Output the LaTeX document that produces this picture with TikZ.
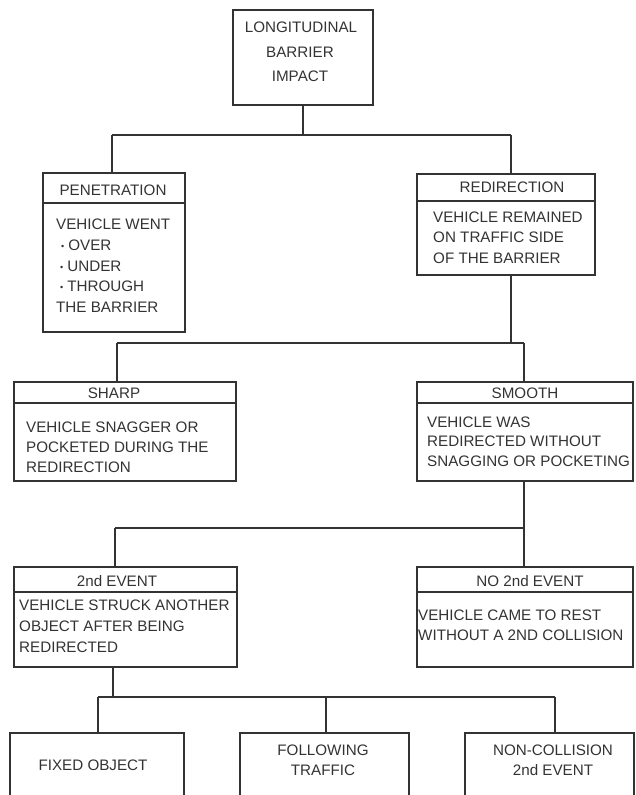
\documentclass[tikz,border=0pt]{standalone}
\usepackage{fontspec}
\setmainfont{Liberation Sans}
\definecolor{ink}{gray}{0.2}
\tikzset{
  box/.style={draw=ink, line width=1.1pt, anchor=north west, inner sep=0pt, outer sep=0pt},
  conn/.style={draw=ink, line width=1.1pt},
  txt/.style={anchor=base west, inner sep=0pt, text=ink, font=\fontsize{15.2}{18}\selectfont},
  ctxt/.style={anchor=base, inner sep=0pt, text=ink, font=\fontsize{15.2}{18}\selectfont}
}
\newcommand\mybul{{\fontsize{9}{9}\selectfont\raisebox{0.9pt}{\textbullet}}\hspace{4pt}}
\begin{document}
\begin{tikzpicture}[x=1pt,y=-1pt]
\useasboundingbox (0,0) rectangle (635,795);
\clip (0,0) rectangle (635,795);
% boxes
\node[box, minimum width=140, minimum height=95] (top) at (233,10) {};
\node[box, minimum width=142, minimum height=159] (pen) at (43,173) {};
\node[box, minimum width=178, minimum height=101] (red) at (417,174) {};
\node[box, minimum width=222, minimum height=99] (sharp) at (14,382) {};
\node[box, minimum width=216, minimum height=99] (smooth) at (417,382) {};
\node[box, minimum width=223, minimum height=100] (evt) at (14,567) {};
\node[box, minimum width=216, minimum height=100] (noevt) at (417,567) {};
\node[box, minimum width=174, minimum height=80] (fixed) at (10,733) {};
\node[box, minimum width=169, minimum height=80] (follow) at (240,733) {};
\node[box, minimum width=169, minimum height=80] (noncol) at (465,733) {};
% header dividers
\draw[conn] (pen.north west) ++(0,30) -- ++(142,0);
\draw[conn] (red.north west) ++(0,27) -- ++(178,0);
\draw[conn] (sharp.north west) ++(0,21) -- ++(222,0);
\draw[conn] (smooth.north west) ++(0,21) -- ++(216,0);
\draw[conn] (evt.north west) ++(0,25) -- ++(223,0);
\draw[conn] (noevt.north west) ++(0,25) -- ++(216,0);
% junction coordinates
\coordinate (a1) at (112,135);
\coordinate (a2) at (511,135);
\coordinate (b1) at (117,343);
\coordinate (b2) at (524,343);
\coordinate (b0) at (511,343);
\coordinate (c1) at (115,528);
\coordinate (c2) at (524,528);
\coordinate (d0) at (113,697);
\coordinate (d1) at (98,697);
\coordinate (d2) at (326,697);
\coordinate (d3) at (555,697);
% connectors
\draw[conn] (top.south) -- (top.south |- a1);
\draw[conn] (a1) -- (a2);
\draw[conn] (a1) -- (a1 |- pen.north);
\draw[conn] (a2) -- (a2 |- red.north);
\draw[conn] (b0 |- red.south) -- (b0);
\draw[conn] (b1) -- (b2);
\draw[conn] (b1) -- (b1 |- sharp.north);
\draw[conn] (b2) -- (b2 |- smooth.north);
\draw[conn] (c2 |- smooth.south) -- (c2);
\draw[conn] (c1) -- (c2);
\draw[conn] (c1) -- (c1 |- evt.north);
\draw[conn] (c2) -- (c2 |- noevt.north);
\draw[conn] (d0 |- evt.south) -- (d0);
\draw[conn] (d1) -- (d3);
\draw[conn] (d1) -- (d1 |- fixed.north);
\draw[conn] (d2) -- (d2 |- follow.north);
\draw[conn] (d3) -- (d3 |- noncol.north);
% texts
\node[ctxt] (top-1) at (301,32.5) {LONGITUDINAL};
\node[ctxt] (top-2) at (300,57.5) {BARRIER};
\node[ctxt] (top-3) at (300,81.5) {IMPACT};
\node[ctxt] (pen-h) at (113,195.5) {PENETRATION};
\node[txt] (pen-1) at (56,229.5) {VEHICLE WENT};
\node[txt] (pen-2) at (61,250.5) {\mybul OVER};
\node[txt] (pen-3) at (60,271.5) {\mybul UNDER};
\node[txt] (pen-4) at (60,291.5) {\mybul THROUGH};
\node[txt] (pen-5) at (56,312.5) {THE BARRIER};
\node[ctxt] (red-h) at (512,192.5) {REDIRECTION};
\node[txt] (red-1) at (433,222.5) {VEHICLE REMAINED};
\node[txt] (red-2) at (433,242.5) {ON TRAFFIC SIDE};
\node[txt] (red-3) at (433,263.5) {OF THE BARRIER};
\node[ctxt] (sharp-h) at (114,398.5) {SHARP};
\node[txt] (sharp-1) at (26,432.5) {VEHICLE SNAGGER OR};
\node[txt] (sharp-2) at (26,452.5) {POCKETED DURING THE};
\node[txt] (sharp-3) at (26,472.5) {REDIRECTION};
\node[ctxt] (smooth-h) at (525,398.5) {SMOOTH};
\node[txt] (smooth-1) at (427,427.5) {VEHICLE WAS};
\node[txt] (smooth-2) at (427,446.5) {REDIRECTED WITHOUT};
\node[txt] (smooth-3) at (427,466.5) {SNAGGING OR POCKETING};
\node[ctxt] (evt-h) at (117,586.5) {2nd EVENT};
\node[txt] (evt-1) at (19,610.5) {VEHICLE STRUCK ANOTHER};
\node[txt] (evt-2) at (19,631.5) {OBJECT AFTER BEING};
\node[txt] (evt-3) at (19,652.5) {REDIRECTED};
\node[ctxt] (noevt-h) at (530,586.5) {NO 2nd EVENT};
\node[txt] (noevt-1) at (418,620.5) {VEHICLE CAME TO REST};
\node[txt] (noevt-2) at (418,640.5) {WITHOUT A 2ND COLLISION};
\node[ctxt] (fixed-1) at (93,770.5) {FIXED OBJECT};
\node[ctxt] (follow-1) at (323,755.5) {FOLLOWING};
\node[ctxt] (follow-2) at (323,775.5) {TRAFFIC};
\node[ctxt] (noncol-1) at (553,755.5) {NON-COLLISION};
\node[ctxt] (noncol-2) at (553,775.5) {2nd EVENT};
\end{tikzpicture}
\end{document}
